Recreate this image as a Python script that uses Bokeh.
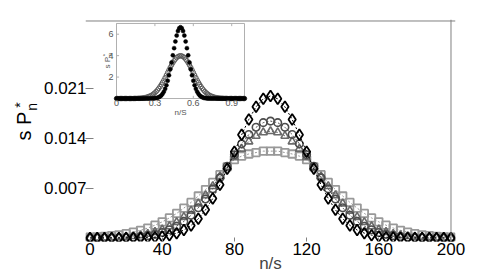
import math
from bokeh.plotting import figure
from bokeh.layouts import row
from bokeh.models import Range1d, FixedTicker, Span
from bokeh.embed import file_html
from bokeh.resources import INLINE
from bokeh.core.properties import value

# ---------------- main data ----------------
ns = [0, 4, 8, 12, 16, 20, 24, 28, 32, 36, 40, 44, 48, 52, 56, 60, 64, 68, 72, 76, 80,
      84, 88, 92, 96, 100, 104, 108, 112, 116, 120, 124, 128, 132, 136, 140, 144, 148,
      152, 156, 160, 164, 168, 172, 176, 180, 184, 188, 192, 196, 200]

diamonds = [0.0, 0.0, 0.0, 0.0, 0.0, 0.0, 0.00001, 0.00003, 0.00006, 0.00012, 0.00022,
            0.00040, 0.00068, 0.00112, 0.00177, 0.00270, 0.00395, 0.00555, 0.00749,
            0.00971, 0.01210, 0.01449, 0.01666, 0.01842, 0.01955, 0.01995,
            0.01955, 0.01842, 0.01666, 0.01449, 0.01210, 0.00971, 0.00749, 0.00555,
            0.00395, 0.00270, 0.00177, 0.00112, 0.00068, 0.00040, 0.00022, 0.00012,
            0.00006, 0.00003, 0.00001, 0.0, 0.0, 0.0, 0.0, 0.0, 0.0]

circles = [0.0, 0.00001, 0.00001, 0.00002, 0.00004, 0.00007, 0.00012, 0.00020, 0.00033,
           0.00051, 0.00078, 0.00115, 0.00166, 0.00233, 0.00319, 0.00424, 0.00548,
           0.00690, 0.00845, 0.01008, 0.01170, 0.01322, 0.01454, 0.01555, 0.01620, 0.01642,
           0.01620, 0.01555, 0.01454, 0.01322, 0.01170, 0.01008, 0.00845, 0.00690,
           0.00548, 0.00424, 0.00319, 0.00233, 0.00166, 0.00115, 0.00078, 0.00051,
           0.00033, 0.00020, 0.00012, 0.00007, 0.00004, 0.00002, 0.00001, 0.00001, 0.0]

triangles = [0.00001, 0.00002, 0.00004, 0.00006, 0.00010, 0.00016, 0.00025, 0.00038,
             0.00057, 0.00083, 0.00118, 0.00163, 0.00222, 0.00294, 0.00382, 0.00484,
             0.00600, 0.00728, 0.00862, 0.00998, 0.01131, 0.01252, 0.01355, 0.01434,
             0.01483, 0.01500,
             0.01483, 0.01434, 0.01355, 0.01252, 0.01131, 0.00998, 0.00862, 0.00728,
             0.00600, 0.00484, 0.00382, 0.00294, 0.00222, 0.00163, 0.00118, 0.00083,
             0.00057, 0.00038, 0.00025, 0.00016, 0.00010, 0.00006, 0.00004, 0.00002, 0.00001]

squares = [0.00011, 0.00016, 0.00023, 0.00033, 0.00045, 0.00061, 0.00082, 0.00108,
           0.00140, 0.00180, 0.00227, 0.00282, 0.00345, 0.00420, 0.00500, 0.00590,
           0.00680, 0.00780, 0.00890, 0.01000, 0.01100, 0.01150, 0.01180, 0.01200,
           0.01220, 0.01220,
           0.01220, 0.01200, 0.01180, 0.01150, 0.01100, 0.01000, 0.00890, 0.00780,
           0.00680, 0.00590, 0.00500, 0.00420, 0.00345, 0.00282, 0.00227, 0.00180,
           0.00140, 0.00108, 0.00082, 0.00061, 0.00045, 0.00033, 0.00023, 0.00016, 0.00011]

x_ticks = [0, 40, 80, 120, 160, 200]
y_ticks = [0.007, 0.014, 0.021]
y_tick_labels = {0.007: "0.007", 0.014: "0.014", 0.021: "0.021"}

# ---------------- inset data ----------------
inset_x = [0.00, 0.01, 0.02, 0.03, 0.04, 0.05, 0.06, 0.07, 0.08, 0.09,
           0.10, 0.11, 0.12, 0.13, 0.14, 0.15, 0.16, 0.17, 0.18, 0.19,
           0.20, 0.21, 0.22, 0.23, 0.24, 0.25, 0.26, 0.27, 0.28, 0.29,
           0.30, 0.31, 0.32, 0.33, 0.34, 0.35, 0.36, 0.37, 0.38, 0.39,
           0.40, 0.41, 0.42, 0.43, 0.44, 0.45, 0.46, 0.47, 0.48, 0.49,
           0.50, 0.51, 0.52, 0.53, 0.54, 0.55, 0.56, 0.57, 0.58, 0.59,
           0.60, 0.61, 0.62, 0.63, 0.64, 0.65, 0.66, 0.67, 0.68, 0.69,
           0.70, 0.71, 0.72, 0.73, 0.74, 0.75, 0.76, 0.77, 0.78, 0.79,
           0.80, 0.81, 0.82, 0.83, 0.84, 0.85, 0.86, 0.87, 0.88, 0.89,
           0.90, 0.91, 0.92, 0.93, 0.94, 0.95, 0.96, 0.97, 0.98, 0.99, 1.00]

inset_black = [0.0, 0.0, 0.0, 0.0, 0.0, 0.0, 0.0, 0.0, 0.0, 0.0,
               0.0, 0.0, 0.0, 0.0, 0.0, 0.0, 0.0, 0.0, 0.0, 0.0,
               0.0, 0.0, 0.0, 0.0, 0.0, 0.0, 0.0, 0.0, 0.01, 0.01,
               0.03, 0.04, 0.07, 0.12, 0.19, 0.29, 0.44, 0.64, 0.90, 1.24,
               1.66, 2.16, 2.73, 3.37, 4.03, 4.70, 5.32, 5.87, 6.29, 6.56,
               6.65, 6.56, 6.29, 5.87, 5.32, 4.70, 4.03, 3.37, 2.73, 2.16,
               1.66, 1.24, 0.90, 0.64, 0.44, 0.29, 0.19, 0.12, 0.07, 0.04,
               0.03, 0.01, 0.01, 0.0, 0.0, 0.0, 0.0, 0.0, 0.0, 0.0,
               0.0, 0.0, 0.0, 0.0, 0.0, 0.0, 0.0, 0.0, 0.0, 0.0,
               0.0, 0.0, 0.0, 0.0, 0.0, 0.0, 0.0, 0.0, 0.0, 0.0, 0.0]

inset_gray = [0.0, 0.0, 0.0, 0.0, 0.0, 0.0, 0.0, 0.0, 0.0, 0.0,
              0.0, 0.0, 0.0, 0.0, 0.01, 0.01, 0.01, 0.02, 0.02, 0.03,
              0.04, 0.06, 0.08, 0.10, 0.14, 0.18, 0.22, 0.28, 0.35, 0.44,
              0.54, 0.66, 0.79, 0.94, 1.11, 1.30, 1.50, 1.71, 1.94, 2.18,
              2.42, 2.66, 2.90, 3.12, 3.33, 3.52, 3.68, 3.81, 3.91, 3.97,
              3.99, 3.97, 3.91, 3.81, 3.68, 3.52, 3.33, 3.12, 2.90, 2.66,
              2.42, 2.18, 1.94, 1.71, 1.50, 1.30, 1.11, 0.94, 0.79, 0.66,
              0.54, 0.44, 0.35, 0.28, 0.22, 0.18, 0.14, 0.10, 0.08, 0.06,
              0.04, 0.03, 0.02, 0.02, 0.01, 0.01, 0.01, 0.0, 0.0, 0.0,
              0.0, 0.0, 0.0, 0.0, 0.0, 0.0, 0.0, 0.0, 0.0, 0.0, 0.0]

inset_x_ticks = [0, 0.3, 0.6, 0.9]
inset_x_labels = ["0", "0.3", "0.6", "0.9"]
inset_y_ticks = [2, 4, 6]
inset_y_labels = ["2", "4", "6"]

FONT = "Liberation Sans"
LAB_W = 40
W, H = 498, 277

# ---------------- y-axis label strip (s P*n) ----------------
lab = figure(width=LAB_W, height=H, output_backend="svg", toolbar_location=None,
             x_range=Range1d(0, LAB_W), y_range=Range1d(0, H),
             min_border=0, x_axis_location=None, y_axis_location=None)
lab.outline_line_color = None
lab.grid.visible = False
lab.background_fill_color = "white"
lab.border_fill_color = "white"
lab.text(x=[23], y=[H - 151], text=["s P"], angle=math.pi / 2, text_align="left",
         text_baseline="alphabetic", text_font=value(FONT), text_font_size="20px",
         text_color="black")
lab.text(x=[31], y=[H - 114], text=["n"], angle=math.pi / 2, text_align="left",
         text_baseline="alphabetic", text_font=value(FONT), text_font_size="14px",
         text_color="black")
lab.text(x=[19.5], y=[H - 110], text=["*"], angle=math.pi / 2, text_align="left",
         text_baseline="alphabetic", text_font=value(FONT), text_font_size="14px",
         text_color="black")

# ---------------- main figure ----------------
p = figure(width=W - LAB_W, height=H, output_backend="svg", toolbar_location=None,
           x_range=Range1d(-2.5, 202.5), y_range=Range1d(-0.000492, 0.030688),
           min_border_left=85 - LAB_W, min_border_right=W - 455,
           min_border_top=19, min_border_bottom=H - 241)
p.background_fill_color = "white"
p.border_fill_color = "white"
p.outline_line_color = None
p.grid.visible = False

for ax in (p.xaxis[0], p.yaxis[0]):
    ax.axis_line_color = None
    ax.major_tick_in = 4
    ax.major_tick_out = 0
    ax.major_tick_line_color = "#808080"
    ax.minor_tick_line_color = None
    ax.major_label_text_font = FONT
    ax.major_label_text_font_size = "17px"
    ax.major_label_text_color = "black"

p.xaxis.ticker = FixedTicker(ticks=x_ticks)
p.xaxis.major_label_standoff = 1
p.xaxis.axis_label = "n/s"
p.xaxis.axis_label_text_font = FONT
p.xaxis.axis_label_text_font_size = "17px"
p.xaxis.axis_label_text_font_style = "normal"
p.xaxis.axis_label_standoff = -4
p.yaxis.ticker = FixedTicker(ticks=y_ticks)
p.yaxis.major_label_overrides = y_tick_labels
p.yaxis.major_label_standoff = -1
p.yaxis.major_tick_in = 8

# box lines (top and right)
p.add_layout(Span(location=0.030478, dimension="width", line_color="#808080", line_width=1))
p.add_layout(Span(location=200, dimension="height", line_color="#808080", line_width=1))

series = [
    (squares, "square", 7.5, "#999999", 1.8),
    (triangles, "triangle", 8, "#6a6a6a", 1.6),
    (circles, "circle", 7.5, "#4d4d4d", 1.6),
    (diamonds, "diamond", 11, "#000000", 1.8),
]
for ys, mk, sz, col, lw in series:
    p.line(ns, ys, line_color=col, line_width=1, line_dash="2 2")
    p.scatter(ns, ys, marker=mk, size=sz, fill_color=None, line_color=col, line_width=lw)

# ---------------- inset ----------------
sub = p.subplot(x_source=Range1d(0, 1), y_source=Range1d(0, 7),
                x_target=Range1d(14.68, 85.60), y_target=Range1d(0.01959, 0.03013))
sub.quad(left=[0], right=[1], bottom=[0], top=[7], fill_color="white",
         line_color="#b0b0b0", line_width=1)
sub.segment(x0=inset_x_ticks, y0=[0] * 4, x1=inset_x_ticks, y1=[0.25] * 4,
            line_color="#b0b0b0", line_width=1)
sub.segment(x0=inset_x_ticks, y0=[7] * 4, x1=inset_x_ticks, y1=[6.75] * 4,
            line_color="#b0b0b0", line_width=1)
sub.segment(x0=[0] * 3, y0=inset_y_ticks, x1=[0.02] * 3, y1=inset_y_ticks,
            line_color="#b0b0b0", line_width=1)
sub.scatter(inset_x, inset_gray, marker="circle", size=4.5, fill_color=None,
            line_color="#5a5a5a", line_width=1)
sub.scatter(inset_x, inset_black, marker="circle", size=4, fill_color="black",
            line_color="black", line_width=0.5)
sub.text(x=inset_x_ticks, y=[0] * 4, text=inset_x_labels, text_align="center",
         text_baseline="top", y_offset=1, text_font=value(FONT), text_font_size="9px",
         text_color="#555555")
sub.text(x=[0] * 3, y=inset_y_ticks, text=inset_y_labels, text_align="right",
         text_baseline="middle", x_offset=-3, text_font=value(FONT), text_font_size="9px",
         text_color="#555555")
sub.text(x=[0.5], y=[0], text=["n/S"], text_align="center", text_baseline="top",
         y_offset=9, text_font=value(FONT), text_font_size="8px", text_color="#555555")
sub.text(x=[0], y=[2.8], text=["s P"], angle=math.pi / 2, text_align="left",
         text_baseline="alphabetic", x_offset=-9, text_font=value(FONT),
         text_font_size="8px", text_color="#555555")
sub.text(x=[0], y=[3.95], text=["n"], angle=math.pi / 2, text_align="left",
         text_baseline="alphabetic", x_offset=-7, text_font=value(FONT),
         text_font_size="6px", text_color="#555555")
sub.text(x=[0], y=[3.95], text=["*"], angle=math.pi / 2, text_align="left",
         text_baseline="alphabetic", x_offset=-12, text_font=value(FONT),
         text_font_size="6px", text_color="#555555")

layout = row(lab, p)
open("out.html", "w").write(file_html(layout, INLINE))
